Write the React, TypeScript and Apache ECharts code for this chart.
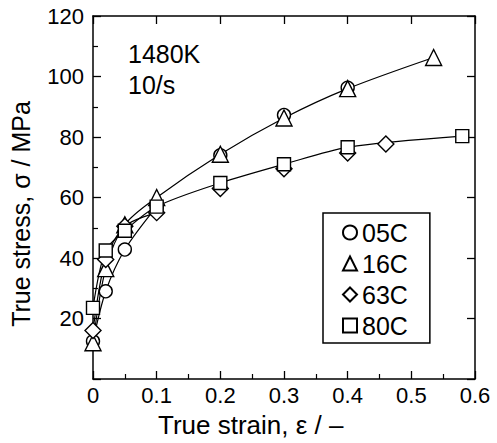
import React, { useEffect, useRef } from "react";
import * as echarts from "echarts";

const seriesNames = ["05C", "16C", "63C", "80C"];
const symbols = ["circle", "triangle", "diamond", "rect"];
const symbolSizes = [13, 16, 16, 13];
const strain05 = [0, 0.02, 0.05, 0.1, 0.2, 0.3, 0.4];
const stress05 = [12.5, 29, 42.8, 57, 74, 87.3, 96.3];
const strain16 = [0, 0.02, 0.05, 0.1, 0.2, 0.3, 0.4, 0.535];
const stress16 = [12, 36.5, 51, 60, 74.3, 86.3, 96, 106.3];
const strain63 = [0, 0.02, 0.05, 0.1, 0.2, 0.3, 0.4, 0.46];
const stress63 = [16, 39.5, 50.5, 55, 63, 69.5, 74.7, 77.7];
const strain80 = [0, 0.02, 0.05, 0.1, 0.2, 0.3, 0.4, 0.58];
const stress80 = [23.5, 42.5, 49, 57, 64.8, 71, 76.6, 80.3];
// how many leading points of each series are joined by its own curve
const curveLengths = [4, 8, 4, 8];
const xTicks = [0, 0.1, 0.2, 0.3, 0.4, 0.5, 0.6];
const yTicks = [0, 20, 40, 60, 80, 100, 120];
const annotations = ["1480K", "10/s"];
const xTitle = "True strain, ε / –";
const yTitle = "True stress, σ / MPa";

const FONT = "Liberation Sans";

export default function App() {
  const ref = useRef<HTMLDivElement>(null);
  useEffect(() => {
    if (!ref.current) return;
    const chart = echarts.init(ref.current, null, { renderer: "svg" });
    const strains = [strain05, strain16, strain63, strain80];
    const stresses = [stress05, stress16, stress63, stress80];
    const pairs = strains.map((s, i) => s.map((x, j) => [x, stresses[i][j]]));

    const lineSeries = pairs.map((p, i) => ({
      type: "line",
      name: "curve" + seriesNames[i],
      data: p.slice(0, curveLengths[i]),
      smooth: 0.3,
      symbol: "none",
      silent: true,
      lineStyle: { color: "#000", width: 1.2 },
      z: 2,
    }));
    const scatterSeries = pairs.map((p, i) => ({
      type: "scatter",
      name: seriesNames[i],
      data: p,
      symbol: symbols[i],
      symbolSize: symbolSizes[i],
      itemStyle: { color: "#fff", borderColor: "#000", borderWidth: 1.4, opacity: 1 },
      z: 3,
    }));

    const axisCommon = {
      axisLine: { show: true, onZero: false, lineStyle: { color: "#000", width: 1.5 } },
      splitLine: { show: false },
    };
    const majorTick = { show: true, inside: true, length: 8, lineStyle: { color: "#000", width: 1.3 } };
    const minorTick = { show: true, splitNumber: 2, length: 5, lineStyle: { color: "#000", width: 1.2 } };

    chart.setOption({
      animation: false,
      backgroundColor: "#fff",
      grid: { left: 93, right: 22, top: 16, bottom: 64 },
      xAxis: [
        {
          type: "value",
          min: xTicks[0],
          max: xTicks[xTicks.length - 1],
          interval: 0.1,
          ...axisCommon,
          axisTick: majorTick,
          minorTick,
          axisLabel: {
            color: "#000",
            fontFamily: FONT,
            fontSize: 22,
            margin: 5,
            formatter: (v: number) => String(Math.round(v * 10) / 10),
          },
        },
        {
          type: "value",
          position: "top",
          min: xTicks[0],
          max: xTicks[xTicks.length - 1],
          interval: 0.1,
          ...axisCommon,
          axisTick: majorTick,
          axisLabel: { show: false },
        },
      ],
      yAxis: [
        {
          type: "value",
          min: yTicks[0],
          max: yTicks[yTicks.length - 1],
          interval: 20,
          ...axisCommon,
          axisTick: majorTick,
          minorTick,
          axisLabel: {
            color: "#000",
            fontFamily: FONT,
            fontSize: 22,
            margin: 9,
            formatter: (v: number) => (v === 0 ? "" : String(v)),
          },
        },
        {
          type: "value",
          position: "right",
          min: yTicks[0],
          max: yTicks[yTicks.length - 1],
          interval: 20,
          ...axisCommon,
          axisTick: majorTick,
          axisLabel: { show: false },
        },
      ],
      legend: {
        data: seriesNames.map((n, i) => ({ name: n, icon: symbols[i] })),
        orient: "vertical",
        left: 323,
        top: 213,
        padding: [7, 22, 5, 19],
        itemGap: 6,
        itemWidth: 14,
        itemHeight: 14,
        borderColor: "#000",
        borderWidth: 1.5,
        borderRadius: 0,
        backgroundColor: "#fff",
        selectedMode: false,
        textStyle: { color: "#000", fontFamily: FONT, fontSize: 25, lineHeight: 25 },
      },
      graphic: [
        ...annotations.map((t, i) => ({
          type: "text",
          x: 128,
          y: 54 + i * 31,
          style: { text: t, fontFamily: FONT, fontSize: 25, fill: "#000", verticalAlign: "middle" },
        })),
        {
          type: "text",
          x: 158,
          y: 425,
          style: { text: xTitle, fontFamily: FONT, fontSize: 26, fill: "#000", verticalAlign: "middle" },
        },
        {
          type: "text",
          x: 21,
          y: 214,
          rotation: Math.PI / 2,
          style: {
            text: yTitle,
            fontFamily: FONT,
            fontSize: 25,
            fill: "#000",
            align: "center",
            verticalAlign: "middle",
          },
        },
      ],
      series: [...lineSeries, ...scatterSeries],
    });
    return () => chart.dispose();
  }, []);
  return <div ref={ref} style={{ width: 497, height: 443, position: "absolute", left: 0, top: 0 }} />;
}
